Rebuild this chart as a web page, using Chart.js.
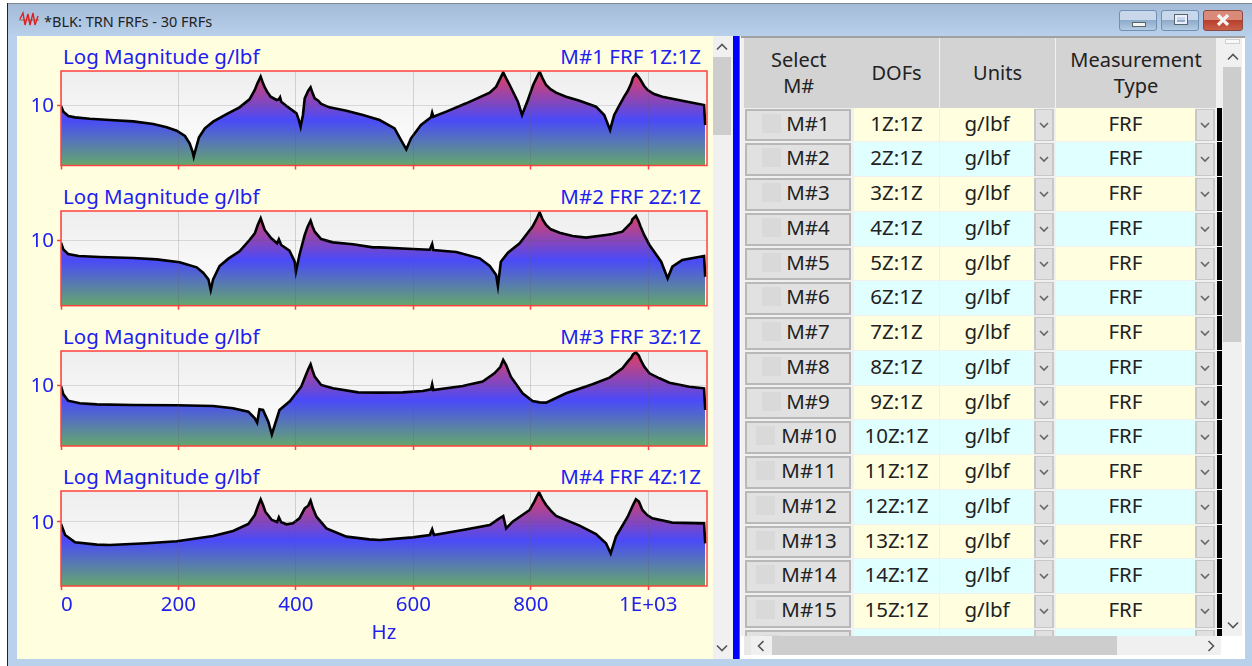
<!DOCTYPE html>
<html>
<head>
<meta charset="utf-8">
<title>BLK: TRN FRFs - 30 FRFs</title>
<script src="https://cdn.jsdelivr.net/npm/chart.js@4"></script>
<style>
  html, body { margin: 0; padding: 0; background: #fff; }
  #page { position: absolute; left: 0; top: 0; width: 1252px; height: 666px; overflow: hidden; background: #fff; font-family: "Noto Sans", sans-serif; }
  #page div, #page canvas, #page svg { position: absolute; }
  .t { white-space: nowrap; text-align: center; color: #222; }
  .blue { color: #2020f0; font-size: 20.5px; line-height: 24px; white-space: nowrap; }
  .cell { font-size: 20.5px; }
  .btn { background: #e1e1e1; border: 2px solid #b8b8b8; box-sizing: border-box; }
  .drop { background: #e0e0e0; border: 1px solid #c8c8c8; border-width: 1px 2px; box-sizing: border-box; }
  .head { background: #d3d3d3; font-size: 20px; line-height: 26px; color: #222; text-align: center; display: flex; align-items: center; justify-content: center; }
</style>
</head>
<body>
<div id="page"></div>
<script>
// x axis and y tick labels
const xTickValues = [0, 200, 400, 600, 800, 1000, 1100];
const hzTicks = { 0: '0', 200: '200', 400: '400', 600: '600', 800: '800', 1000: '1E+03' };
const yTickValues = [10];

// each curve: Hz and log10(g/lbf)
const m1Hz = [0,4,12.5,24,49,83,123,157,180,197,211,219,224,226,229,235,245,259,282,304,321,330,334.5,340,344,347,351,357,367,371,373,375,384,401,405,408,412,415,421,425,428.5,432,438,443,457,486,514,542.5,568,579,588,596,613,630,632,634,656,690,730,741,748,753,758,764,769,778,785,795,804,810,815,820,826,834,843,860,883,911,925,935,938,942,951,959,965,971,974,979,984,987,993,999,1010,1024,1058,1095,1097];
const m1Log = [0.983,0.890,0.818,0.796,0.774,0.752,0.730,0.686,0.631,0.576,0.488,0.366,0.229,0.146,0.256,0.466,0.614,0.725,0.851,0.961,1.094,1.248,1.358,1.468,1.358,1.292,1.220,1.138,1.083,1.094,1.127,1.055,0.983,0.862,0.752,0.642,0.835,1.110,1.237,1.292,1.193,1.110,1.072,1.017,0.961,0.906,0.835,0.752,0.614,0.421,0.267,0.449,0.669,0.796,0.873,0.807,0.890,1.028,1.204,1.303,1.441,1.540,1.441,1.331,1.231,1.055,0.835,1.083,1.331,1.452,1.551,1.441,1.331,1.259,1.204,1.138,1.072,0.972,0.835,0.587,0.697,0.835,1.000,1.138,1.231,1.358,1.452,1.512,1.457,1.413,1.314,1.248,1.182,1.138,1.072,1.000,0.669];

const m2Hz = [0,4,12,30,66,123,163,202,231,242,251,255,259,270,285,304,321,330,335,340,344,347,358,368,371,375,389,398,400,406,415,420,425,428,432,443,463,497,531,542.5,599,628,632,634,673,713,730,741,744,749,761,781,803,809,815,820,826,834,849,871,894,928,939,956,971,973,979,983,987,993,1002,1022,1033,1041,1058,1095,1097];
const m2Log = [0.963,0.861,0.790,0.759,0.744,0.729,0.708,0.663,0.586,0.505,0.403,0.240,0.403,0.607,0.719,0.831,1.004,1.106,1.233,1.335,1.233,1.157,1.030,0.953,1.014,0.928,0.841,0.673,0.520,0.775,1.081,1.208,1.300,1.218,1.131,1.019,0.968,0.938,0.892,0.892,0.866,0.856,0.943,0.851,0.821,0.724,0.607,0.469,0.301,0.673,0.810,0.953,1.208,1.310,1.427,1.320,1.233,1.167,1.116,1.065,1.040,1.081,1.096,1.131,1.269,1.320,1.371,1.300,1.208,1.081,0.928,0.673,0.418,0.596,0.698,0.759,0.443];

const m3Hz = [0,4,12,32,61,123,197,259,293,319,330,334,338,344,353,359,364,372,390,409,417,421,425,428,432,443,463,506,542.5,582,616,630,632,634,684,718,738,748,753,758,766,786,803,815,826,860,905,934,956,965,971,974,979,984,987,993,1002,1019,1036,1070,1095,1097];
const m3Log = [0.988,0.851,0.747,0.703,0.686,0.675,0.670,0.659,0.621,0.566,0.456,0.384,0.604,0.593,0.401,0.192,0.346,0.593,0.741,0.977,1.170,1.263,1.345,1.252,1.142,1.005,0.950,0.884,0.879,0.884,0.906,0.934,1.016,0.923,0.988,1.060,1.197,1.300,1.417,1.334,1.142,0.868,0.741,0.719,0.714,0.868,1.016,1.126,1.280,1.389,1.455,1.510,1.543,1.488,1.417,1.307,1.197,1.115,1.043,0.977,0.950,0.593];

const m4Hz = [0,7,24,61,83,146,197,259,293,319,330,335,340,344,348,359,368,371,375,384,395,406,415,421,425,429,435,452,486,525,542.5,599,628,632,635,684,730,744,753,758,769,798,806,810,814,820,826,834,843,883,911,928,936,945,965,974,979,984,990,998,1007,1041,1095,1097];
const m4Log = [0.969,0.797,0.682,0.646,0.641,0.667,0.698,0.781,0.859,0.969,1.109,1.240,1.354,1.266,1.161,1.031,1.000,1.073,0.995,0.964,0.979,1.057,1.214,1.255,1.333,1.214,1.083,0.901,0.771,0.729,0.719,0.760,0.797,0.885,0.797,0.875,0.953,1.042,1.094,0.901,1.005,1.188,1.318,1.396,1.464,1.354,1.266,1.177,1.094,0.943,0.813,0.667,0.510,0.771,1.083,1.266,1.354,1.318,1.188,1.109,1.057,0.990,0.979,0.667];

const seriesHz = [m1Hz, m2Hz, m3Hz, m4Hz];
const seriesLog = [m1Log, m2Log, m3Log, m4Log];
const yAxisMax = [36.5, 28, 36.7, 30.5];
const rightTitles = ['M#1 FRF 1Z:1Z', 'M#2 FRF 2Z:1Z', 'M#3 FRF 3Z:1Z', 'M#4 FRF 4Z:1Z'];

// table rows
const rowNames = ['M#1','M#2','M#3','M#4','M#5','M#6','M#7','M#8','M#9','M#10','M#11','M#12','M#13','M#14','M#15'];
const rowDofs = ['1Z:1Z','2Z:1Z','3Z:1Z','4Z:1Z','5Z:1Z','6Z:1Z','7Z:1Z','8Z:1Z','9Z:1Z','10Z:1Z','11Z:1Z','12Z:1Z','13Z:1Z','14Z:1Z','15Z:1Z'];

const page = document.getElementById('page');

function box(left, top, width, height, style, text, cls) {
  const d = document.createElement('div');
  d.style.cssText = `left:${left}px;top:${top}px;width:${width}px;height:${height}px;${style || ''}`;
  if (cls) d.className = cls;
  if (text) d.textContent = text;
  page.appendChild(d);
  return d;
}

function chevron(cx, cy, dir, color, size) {
  const s = size || 5;
  const dy = dir === 'down' ? s / 2 : dir === 'up' ? -s / 2 : 0;
  const dx = dir === 'right' ? s / 2 : dir === 'left' ? -s / 2 : 0;
  let pts;
  if (dir === 'up' || dir === 'down') pts = `${-s},${-dy} 0,${dy} ${s},${-dy}`;
  else pts = `${-dx},${-s} ${dx},0 ${-dx},${s}`;
  const svg = `<svg width="20" height="20" style="left:${cx - 10}px;top:${cy - 10}px" viewBox="-10 -10 20 20"><polyline points="${pts}" fill="none" stroke="${color}" stroke-width="1.6"/></svg>`;
  page.insertAdjacentHTML('beforeend', svg);
}

// window frame
box(7, 3, 1245, 663, 'background:#b9d1ea');
box(7, 3, 1245, 1, 'background:#808890');
box(7, 3, 1, 663, 'background:#222');
box(8, 4, 1244, 32, 'background:linear-gradient(#a3bbd7,#b8d0ea)');
box(17, 36, 696, 623, 'background:#ffffe0');

page.insertAdjacentHTML('beforeend', '<svg width="20" height="18" style="left:19px;top:11px" viewBox="0 0 20 18"><line x1="0" y1="9" x2="20" y2="9" stroke="#999" stroke-width="2"/><polyline points="1,8 4,2 6,14 9,3 11,14 14,2 16,14 19,5" fill="none" stroke="#e02020" stroke-width="1.4"/></svg>');
box(44, 11, 200, 20, 'font-size:14.5px;line-height:20px;text-align:left;color:#222', '*BLK: TRN FRFs - 30 FRFs', 't');

// window buttons
box(1119, 10, 38, 21, 'box-sizing:border-box;border:1px solid #6f8fb5;border-radius:3px;background:linear-gradient(#c8d8ea 45%,#8eabc9 50%,#b4cbe2)');
box(1132, 22, 12, 3, 'background:#f4f4f4;border:1px solid #566');
box(1161, 10, 38, 21, 'box-sizing:border-box;border:1px solid #6f8fb5;border-radius:3px;background:linear-gradient(#c8d8ea 45%,#8eabc9 50%,#b4cbe2)');
box(1175, 15, 8, 5, 'border:2px solid #eef;outline:1px solid #566');
box(1203, 10, 40, 21, 'box-sizing:border-box;border:1px solid #8a4a40;border-radius:3px;background:linear-gradient(#d98a78 45%,#b8402c 50%,#c9604a)');
page.insertAdjacentHTML('beforeend', '<svg width="14" height="12" style="left:1216px;top:14px" viewBox="0 0 14 12"><path d="M2 1 L12 11 M12 1 L2 11" stroke="#f4f4f4" stroke-width="3.2"/></svg>');

// chart panel scrollbar and splitter
box(713, 36, 20, 623, 'background:#f0f0f0');
box(713, 57, 18, 78, 'background:#cdcdcd');
chevron(722, 47, 'up', '#555');
chevron(722, 648, 'down', '#555');
box(733, 36, 6, 623, 'background:#0000ff');
box(739, 36, 1, 623, 'background:#667');

// table panel
box(740, 36, 505, 623, 'background:#fff');
box(741, 36, 504, 2, 'background:#a0a0a0');
box(741, 38, 481, 598, 'background:#f0f0f0');

const headers = [
  [744, 109.5, ['Select', 'M#']],
  [854, 85, ['DOFs']],
  [940, 115, ['Units']],
  [1056, 160, ['Measurement', 'Type']]
];
headers.forEach(h => {
  const d = box(h[0], 38, h[1], 69.5, '', '', 'head');
  d.innerHTML = '<span>' + h[2].join('<br>') + '</span>';
});

function drawRow(i, name, dof, unit, type) {
  const top = 107.5 + i * 34.75;
  const h = 33.75;
  const fill = i % 2 === 0 ? '#ffffe0' : '#e0ffff';
  const lh = `line-height:${h - 2}px;`;
  box(854, top, 85, h, `background:${fill};${lh}`, dof, 't cell');
  box(940, top, 94, h, `background:${fill};${lh}`, unit, 't cell');
  box(1056, top, 139, h, `background:${fill};${lh}`, type, 't cell');
  box(745, top + 1, 106, h - 1, '', '', 'btn');
  const wide = name.length > 3;
  box(wide ? 756 : 762, top + 6, 19, 19, 'background:#d9d9d9');
  box(wide ? 776 : 775, top, 66, h, `${lh}`, name, 't cell');
  box(1034, top + 1, 20, h - 1, '', '', 'drop');
  box(1195, top + 1, 20, h - 1, '', '', 'drop');
  box(1217, top, 5, h, 'background:#000');
  if (name) {
    chevron(1044, top + 17, 'down', '#666', 4);
    chevron(1205, top + 17, 'down', '#666', 4);
  }
}
rowNames.forEach((name, i) => drawRow(i, name, rowDofs[i], 'g/lbf', 'FRF'));
drawRow(15, '', '', '', '');

// table scrollbars
box(1222, 38, 20, 598, 'background:#f0f0f0');
box(1225, 39, 15, 5, 'background:#f8f8f8;border:1px solid #d0d0d0;box-sizing:border-box');
box(1223, 67, 18, 275, 'background:#cdcdcd');
chevron(1233, 57, 'up', '#555');
chevron(1233, 625, 'down', '#555');
box(741, 636, 504, 23, 'background:#fff');
box(744, 636, 7, 19, 'background:#e8e8e8');
box(751, 636, 470, 19, 'background:#f0f0f0');
box(772, 636, 345, 19, 'background:#cdcdcd');
chevron(761, 646, 'left', '#555');
chevron(1211, 646, 'right', '#555');
box(740, 659, 512, 7, 'background:#b9d1ea');

// fixed plot rectangles so the four panels line up
const plotLeft = 61, plotRight = 707, canvasLeft = 20;
const plotTops = [71, 211, 351, 491];
const plotHeights = [94.5, 94.7, 95, 95];
const topPad = 6;

const frame = {
  id: 'frame',
  beforeDraw(chart) {
    const { ctx, chartArea: a } = chart;
    const g = ctx.createLinearGradient(0, a.top, 0, a.bottom);
    g.addColorStop(0, '#eeeeee');
    g.addColorStop(1, '#ffffff');
    ctx.fillStyle = g;
    ctx.fillRect(a.left, a.top, a.width, a.height);
  },
  afterDraw(chart) {
    const { ctx, chartArea: a } = chart;
    ctx.save();
    ctx.strokeStyle = '#ff4040';
    ctx.lineWidth = 1.5;
    ctx.strokeRect(a.left, a.top, a.width, a.height);
    ctx.restore();
  }
};

function fillGradient(context) {
  const { ctx, chartArea: a } = context.chart;
  if (!a) return '#4a4af8';
  const g = ctx.createLinearGradient(0, a.top, 0, a.bottom);
  g.addColorStop(0, '#e8405a');
  g.addColorStop(0.52, '#4a4af8');
  g.addColorStop(1, '#64a86c');
  return g;
}

// scales ask for room around their labels, the plot rectangle here is fixed
function noScalePadding(s) {
  s.paddingTop = 0;
  s.paddingBottom = 0;
  s.paddingLeft = 0;
  s.paddingRight = 0;
}

seriesHz.forEach((hz, n) => {
  const last = n === 3;
  const top = plotTops[n];
  const bottomSpace = last ? 59 : 8;
  const canvasHeight = Math.ceil(topPad + plotHeights[n] + bottomSpace);

  box(63, top - 27, 300, 24, '', 'Log Magnitude g/lbf', 'blue');
  box(401, top - 27, 300, 24, 'text-align:right', rightTitles[n], 'blue');

  const canvas = document.createElement('canvas');
  canvas.width = 692;
  canvas.height = canvasHeight;
  canvas.style.cssText = `left:${canvasLeft}px;top:${top - topPad}px;width:692px;height:${canvasHeight}px`;
  page.appendChild(canvas);

  const points = hz.map((x, i) => ({ x: x, y: Math.pow(10, seriesLog[n][i]) }));

  new Chart(canvas, {
    type: 'line',
    data: {
      datasets: [{
        data: points,
        borderColor: '#000',
        borderWidth: 2.6,
        pointRadius: 0,
        tension: 0,
        fill: 'start',
        backgroundColor: fillGradient
      }]
    },
    options: {
      responsive: false,
      animation: false,
      parsing: { xAxisKey: 'x', yAxisKey: 'y' },
      layout: { padding: { top: topPad, right: canvas.width - (plotRight - canvasLeft), left: 0, bottom: 0 } },
      plugins: { legend: { display: false }, tooltip: { enabled: false }, title: { display: false } },
      scales: {
        x: {
          type: 'linear',
          min: 0,
          max: 1100,
          afterBuildTicks: s => { s.ticks = xTickValues.map(v => ({ value: v })); },
          afterFit: s => { s.height = canvasHeight - topPad - plotHeights[n]; noScalePadding(s); },
          title: {
            display: last,
            text: 'Hz',
            color: '#2020f0',
            font: { family: 'Noto Sans', size: 20.5 },
            padding: { top: 0, bottom: 0 }
          },
          border: { display: false },
          grid: {
            z: 1,
            color: c => c.tick && c.tick.value === 1100 ? 'transparent' : 'rgba(90,90,90,0.22)',
            tickColor: c => c.tick && c.tick.value === 1100 ? 'transparent' : '#ff4040',
            tickLength: 4,
            tickWidth: 1.5
          },
          ticks: {
            display: last,
            autoSkip: false,
            maxRotation: 0,
            align: 'inner',
            padding: 3,
            color: '#2020f0',
            font: { family: 'Noto Sans', size: 20.5 },
            callback: v => hzTicks[v] || ''
          }
        },
        y: {
          type: 'logarithmic',
          min: 1,
          max: yAxisMax[n],
          afterBuildTicks: s => { s.ticks = yTickValues.map(v => ({ value: v })); },
          afterFit: s => { s.width = plotLeft - canvasLeft; noScalePadding(s); },
          border: { display: false },
          grid: {
            z: 1,
            color: 'rgba(90,90,90,0.18)',
            tickColor: '#ff4040',
            tickLength: 4,
            tickWidth: 1.5
          },
          ticks: {
            padding: 3,
            labelOffset: 1,
            color: '#2020f0',
            font: { family: 'Noto Sans', size: 20.5 },
            callback: v => String(v)
          }
        }
      }
    },
    plugins: [frame]
  });
});
</script>
</body>
</html>
